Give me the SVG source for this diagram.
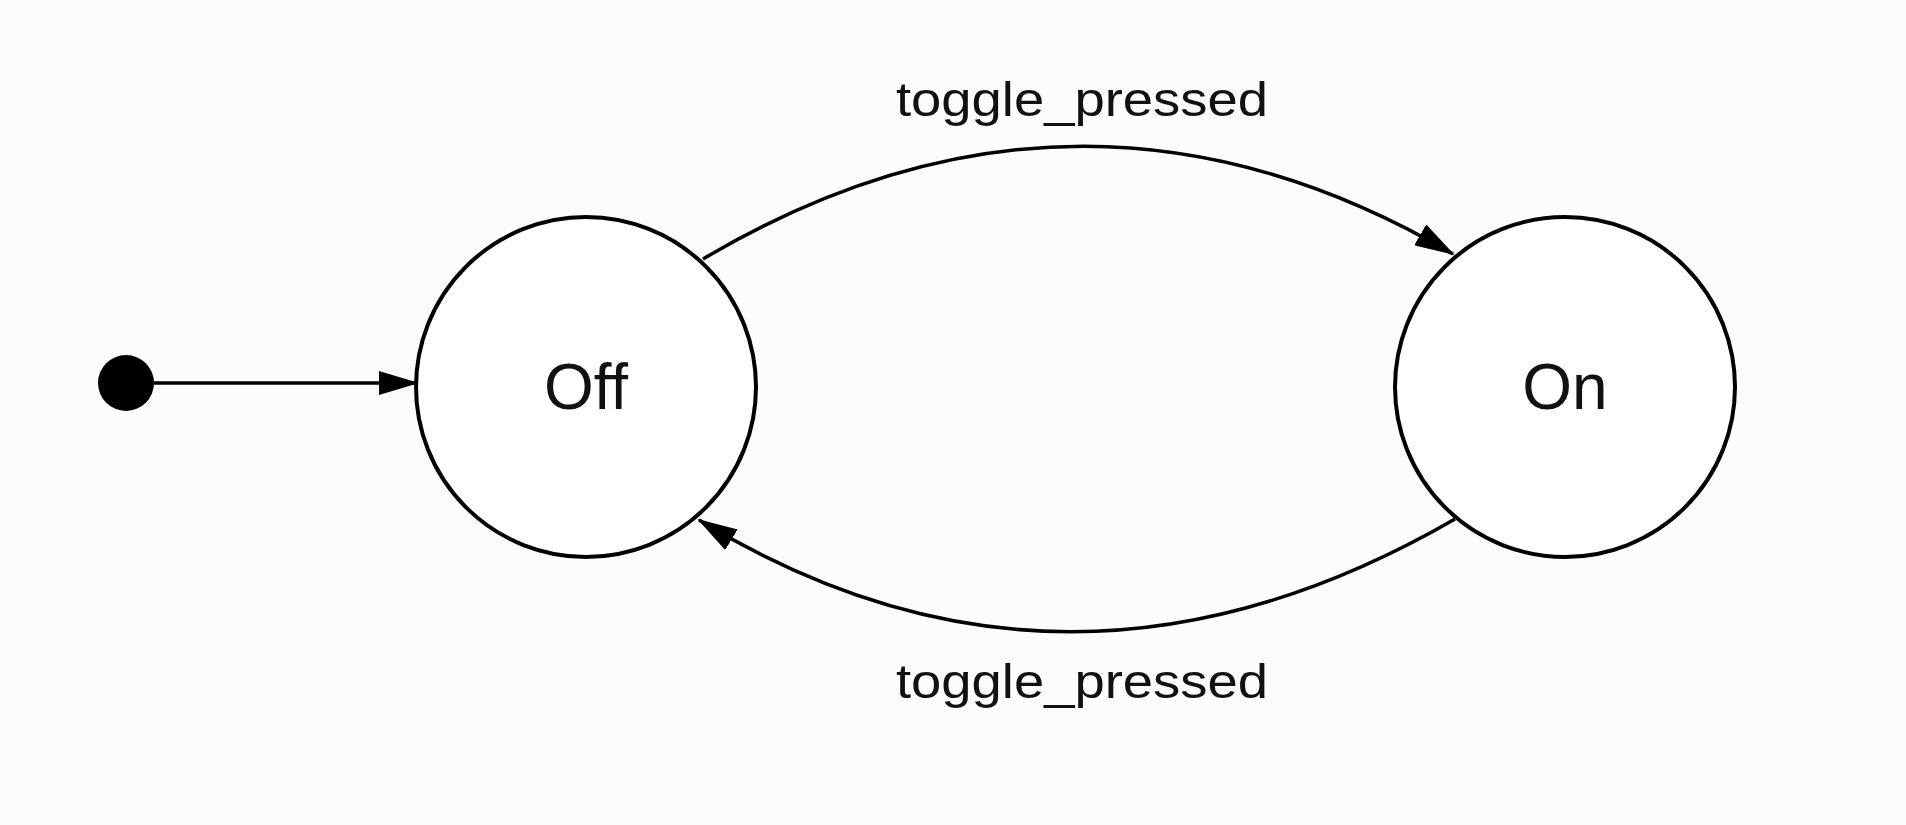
<svg xmlns="http://www.w3.org/2000/svg" width="1906" height="825" viewBox="0 0 1906 825">
<style>
.st{fill:#fff;stroke:#000;stroke-width:4}
.ed{fill:none;stroke:#000;stroke-width:3.5}
.lb{font-family:"Liberation Sans",Arial,sans-serif;font-size:49px;fill:#111;text-anchor:middle}
.nm{font-family:"Liberation Sans",Arial,sans-serif;font-size:64px;fill:#111;text-anchor:middle}
</style>
<defs>
<marker id="a" viewBox="0 0 40 24" refX="38" refY="12" markerWidth="40" markerHeight="24" orient="auto" markerUnits="userSpaceOnUse"><path d="M0,0 L40,12 L0,24 z" fill="#000"/></marker></defs>
<rect width="1906" height="825" fill="#fcfcfc"/>
<g id="connectors">
<path class="ed" d="M154,383 L417,383" marker-end="url(#a)"/>
<path class="ed" d="M703,259 Q1080,36 1453,254" marker-end="url(#a)"/>
<path class="ed" d="M1455,519 Q1066,744 699,520" marker-end="url(#a)"/>
<text class="lb" x="1082" y="116" textLength="372" lengthAdjust="spacingAndGlyphs">toggle_pressed</text>
<text class="lb" x="1082" y="698" textLength="372" lengthAdjust="spacingAndGlyphs">toggle_pressed</text>
</g>
<g id="start"><circle cx="126" cy="383" r="28" fill="#000"/></g>
<g id="off"><circle class="st" cx="586" cy="387" r="170"/><text class="nm" x="586" y="409">Off</text></g>
<g id="on"><circle class="st" cx="1565" cy="387" r="170"/><text class="nm" x="1565" y="409">On</text></g>
</svg>
